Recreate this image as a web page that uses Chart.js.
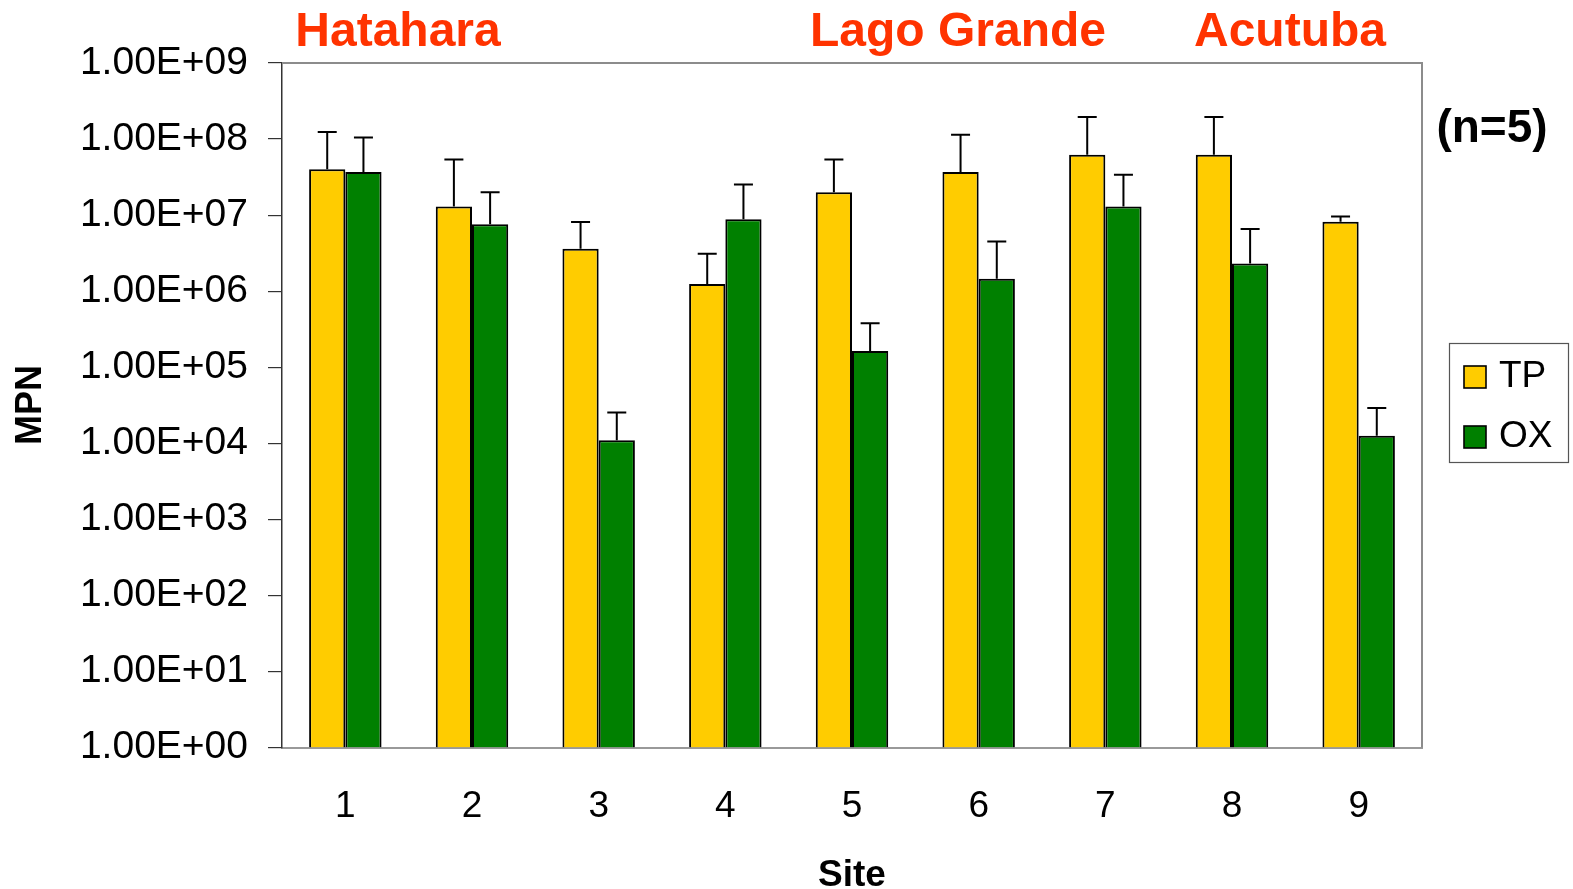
<!DOCTYPE html>
<html>
<head>
<meta charset="utf-8">
<script src="https://cdn.jsdelivr.net/npm/chart.js@4"></script>
<style>
  html, body { margin: 0; padding: 0; background: #fff; }
  #wrap { width: 1573px; height: 889px; }
</style>
</head>
<body>
<div id="wrap"><canvas id="chart" width="1573" height="889"></canvas></div>
<script>
// data
var sites = ['1', '2', '3', '4', '5', '6', '7', '8', '9'];
var tpMean = [4.0e7, 1.3e7, 3.6e6, 1.24e6, 2.0e7, 3.7e7, 6.2e7, 6.2e7, 8.2e6];
var tpUpper = [1.24e8, 5.4e7, 8.1e6, 3.1e6, 5.4e7, 1.14e8, 1.95e8, 1.95e8, 9.6e6];
var oxMean = [3.7e7, 7.6e6, 1.1e4, 8.8e6, 1.63e5, 1.46e6, 1.3e7, 2.31e6, 1.26e4];
var oxUpper = [1.05e8, 2.0e7, 2.54e4, 2.53e7, 3.8e5, 4.5e6, 3.4e7, 6.56e6, 2.9e4];
var yTicks = [1, 1e1, 1e2, 1e3, 1e4, 1e5, 1e6, 1e7, 1e8, 1e9];
var regions = [
    { name: 'Hatahara', x: 398 },
    { name: 'Lago Grande', x: 958 },
    { name: 'Acutuba', x: 1290 }
];

var FONT = '"Liberation Sans", Arial, sans-serif';

function sci(v) {
    var e = Math.round(Math.log10(v));
    return '1.00E+' + (e < 10 ? '0' + e : e);
}

// upper-only error bars, drawn from the bar top to the upper value
var errorBars = {
    id: 'errorBars',
    afterDatasetsDraw: function(chart) {
        var ctx = chart.ctx;
        var yScale = chart.scales.y;
        ctx.save();
        ctx.strokeStyle = '#000';
        ctx.lineWidth = 2;
        chart.data.datasets.forEach(function(ds, di) {
            var meta = chart.getDatasetMeta(di);
            meta.data.forEach(function(bar, i) {
                var yTop = yScale.getPixelForValue(ds.data[i]);
                var yErr = yScale.getPixelForValue(ds.upper[i]);
                ctx.beginPath();
                ctx.moveTo(bar.x, yTop);
                ctx.lineTo(bar.x, yErr);
                ctx.moveTo(bar.x - 9.5, yErr);
                ctx.lineTo(bar.x + 9.5, yErr);
                ctx.stroke();
            });
        });
        ctx.restore();
    }
};

// frame, region names, n label, axis titles and the boxed legend
var decorations = {
    id: 'decorations',
    afterDraw: function(chart) {
        var ctx = chart.ctx;
        var a = chart.chartArea;
        ctx.save();

        ctx.strokeStyle = '#8c8c8c';
        ctx.lineWidth = 2;
        ctx.beginPath();
        ctx.moveTo(a.left, a.top);
        ctx.lineTo(a.right, a.top);
        ctx.lineTo(a.right, a.bottom);
        ctx.stroke();

        ctx.fillStyle = '#ff3300';
        ctx.font = 'bold 48px ' + FONT;
        ctx.textAlign = 'center';
        ctx.textBaseline = 'alphabetic';
        regions.forEach(function(r) {
            ctx.fillText(r.name, r.x, 46);
        });

        ctx.fillStyle = '#000';
        ctx.font = 'bold 46px ' + FONT;
        ctx.fillText('(n=5)', 1492, 142);

        ctx.font = 'bold 37px ' + FONT;
        ctx.textBaseline = 'middle';
        ctx.fillText('Site', 852, 876);

        ctx.save();
        ctx.translate(31, 405);
        ctx.rotate(-Math.PI / 2);
        ctx.font = 'bold 36px ' + FONT;
        ctx.fillText('MPN', 0, 0);
        ctx.restore();

        // legend
        ctx.strokeStyle = '#555';
        ctx.lineWidth = 1.2;
        ctx.strokeRect(1449.5, 343.5, 119, 119);
        ctx.font = '37px ' + FONT;
        ctx.textAlign = 'left';
        chart.data.datasets.forEach(function(ds, i) {
            var y = 377 + i * 60;
            ctx.fillStyle = ds.backgroundColor;
            ctx.fillRect(1464, y - 11, 22, 22);
            ctx.strokeStyle = '#000';
            ctx.lineWidth = 1.6;
            ctx.strokeRect(1464, y - 11, 22, 22);
            ctx.fillStyle = '#000';
            ctx.fillText(ds.label, 1499, y);
        });
        ctx.restore();
    }
};

var whiteBg = {
    id: 'whiteBg',
    beforeDraw: function(chart) {
        var ctx = chart.ctx;
        ctx.save();
        ctx.fillStyle = '#fff';
        ctx.fillRect(0, 0, chart.width, chart.height);
        ctx.restore();
    }
};

var ctx = document.getElementById('chart').getContext('2d');
var chart = new Chart(ctx, {
    type: 'bar',
    data: {
        labels: sites,
        datasets: [{
            label: 'TP',
            data: tpMean,
            upper: tpUpper,
            backgroundColor: '#ffcc00',
            borderColor: '#000',
            borderWidth: 2
        }, {
            label: 'OX',
            data: oxMean,
            upper: oxUpper,
            backgroundColor: '#008000',
            borderColor: '#000',
            borderWidth: 2
        }]
    },
    options: {
        responsive: false,
        animation: false,
        categoryPercentage: 0.572,
        barPercentage: 1.0,
        layout: {
            padding: { left: 0, top: 63, right: 151, bottom: 0 }
        },
        plugins: {
            legend: { display: false },
            title: { display: false },
            tooltip: { enabled: false }
        },
        scales: {
            x: {
                grid: { display: false },
                border: { color: '#999', width: 2 },
                ticks: {
                    color: '#000',
                    padding: 29,
                    font: { family: FONT, size: 37 }
                },
                afterFit: function(scale) { scale.height = 141.5; }
            },
            y: {
                type: 'logarithmic',
                min: 1,
                max: 1e9,
                grid: {
                    drawOnChartArea: false,
                    tickLength: 14,
                    color: '#333',
                    lineWidth: 1.2
                },
                border: { color: '#333', width: 1.5 },
                afterBuildTicks: function(scale) {
                    scale.ticks = yTicks.map(function(v) { return { value: v, major: true }; });
                },
                ticks: {
                    color: '#000',
                    padding: 20,
                    autoSkip: false,
                    font: { family: FONT, size: 39 },
                    callback: function(value) { return sci(value); }
                },
                afterFit: function(scale) { scale.width = 282; }
            }
        }
    },
    plugins: [whiteBg, errorBars, decorations]
});
</script>
</body>
</html>
